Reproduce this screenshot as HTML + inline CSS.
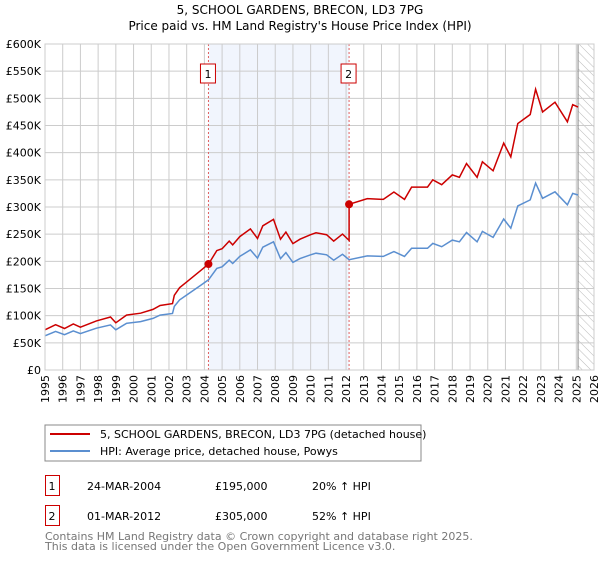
<!DOCTYPE html>
<html><head><meta charset="utf-8">
<style>
body{margin:0;background:#fff;font-family:"DejaVu Sans","Liberation Sans",sans-serif;}
svg text{font-family:"DejaVu Sans","Liberation Sans",sans-serif;}
</style></head>
<body>
<svg width="600" height="560" viewBox="0 0 600 560" id="chart">
<defs>
<pattern id="hatch" width="6" height="6" patternUnits="userSpaceOnUse" patternTransform="rotate(-45)">
<line x1="0" y1="0" x2="0" y2="6" stroke="#bbb" stroke-width="1"/>
</pattern>
</defs>
<text x="300" y="14" text-anchor="middle" font-size="12">5, SCHOOL GARDENS, BRECON, LD3 7PG</text>
<text x="300" y="30" text-anchor="middle" font-size="12">Price paid vs. HM Land Registry's House Price Index (HPI)</text>
<g id="plot"></g>
<rect x="45" y="425" width="376" height="36" fill="#fff" stroke="#888"/>
<line x1="50" y1="434" x2="90" y2="434" stroke="#cc0000" stroke-width="2"/>
<text x="100" y="438" font-size="11">5, SCHOOL GARDENS, BRECON, LD3 7PG (detached house)</text>
<line x1="50" y1="451" x2="90" y2="451" stroke="#5b8fd0" stroke-width="2"/>
<text x="100" y="455" font-size="11">HPI: Average price, detached house, Powys</text>
<g>
<rect x="45.5" y="475.5" width="14" height="20" fill="#fff" stroke="#cc0000"/>
<text x="52" y="490" font-size="11" text-anchor="middle">1</text>
<text x="87" y="490" font-size="11">24-MAR-2004</text>
<text x="215" y="490" font-size="11">£195,000</text>
<text x="312" y="490" font-size="11">20% ↑ HPI</text>
</g>
<g>
<rect x="45.5" y="505.5" width="14" height="20" fill="#fff" stroke="#cc0000"/>
<text x="52" y="520" font-size="11" text-anchor="middle">2</text>
<text x="87" y="520" font-size="11">01-MAR-2012</text>
<text x="215" y="520" font-size="11">£305,000</text>
<text x="312" y="520" font-size="11">52% ↑ HPI</text>
</g>
<text x="45" y="540" font-size="11" fill="#777">Contains HM Land Registry data © Crown copyright and database right 2025.</text>
<text x="45" y="550" font-size="11" fill="#777">This data is licensed under the Open Government Licence v3.0.</text>
</svg>
<script>
const hpiYears=[1995,1995.6,1996.1,1996.6,1997,1997.9,1998.7,1999,1999.6,2000.4,2001.1,2001.5,2002.2,2002.3,2002.6,2003,2003.8,2004.23,2004.7,2005,2005.4,2005.6,2006,2006.6,2007,2007.3,2007.9,2008.3,2008.6,2009,2009.4,2010,2010.3,2010.9,2011.3,2011.8,2012.17,2013.2,2014.1,2014.7,2015.3,2015.7,2016.6,2016.9,2017.4,2018,2018.4,2018.8,2019.4,2019.7,2020.3,2020.9,2021.3,2021.7,2022.4,2022.7,2023.1,2023.8,2024.5,2024.8,2025.1];
const hpiValues=[63,71,65,72,67,77,83,74,86,89,95,101,104,117,129,138,156,166,187,190,202,196,209,221,206,226,236,205,216,198,205,212,215,212,202,213,203,210,209,218,209,224,224,233,227,239,236,253,236,255,244,278,261,302,313,344,316,328,304,325,322];
const saleYears=[2004.23,2012.17];
const salePrices=[195,305];
const yTicks=[0,50,100,150,200,250,300,350,400,450,500,550,600];
const yTickLabels=["£0","£50K","£100K","£150K","£200K","£250K","£300K","£350K","£400K","£450K","£500K","£550K","£600K"];
const xTicks=[1995,1996,1997,1998,1999,2000,2001,2002,2003,2004,2005,2006,2007,2008,2009,2010,2011,2012,2013,2014,2015,2016,2017,2018,2019,2020,2021,2022,2023,2024,2025,2026];
const dataEnd=2025.1;

const L=45,R=594,T=44,B=370;
const X=y=>L+(y-1995)*(R-L)/31;
const Y=v=>B-v*(B-T)/600;
const NS="http://www.w3.org/2000/svg";
const plot=document.getElementById('plot');
function mk(tag,attrs){const e=document.createElementNS(NS,tag);for(const k in attrs)e.setAttribute(k,attrs[k]);plot.appendChild(e);return e;}
function hpiAt(t){for(let i=0;i<hpiYears.length-1;i++){if(t>=hpiYears[i]&&t<=hpiYears[i+1]){const f=(t-hpiYears[i])/(hpiYears[i+1]-hpiYears[i]);return hpiValues[i]+f*(hpiValues[i+1]-hpiValues[i]);}}return hpiValues[hpiValues.length-1];}

const bg=mk('rect',{x:L,y:T,width:R-L,height:B-T,fill:'#fff'});


const sh=mk('rect',{x:X(saleYears[0]),y:T,width:X(saleYears[1])-X(saleYears[0]),height:B-T,fill:'#eef3fd',opacity:0.8});


const ht=mk('rect',{x:X(dataEnd),y:T,width:R-X(dataEnd),height:B-T,fill:'url(#hatch)'});


yTicks.forEach((v,i)=>{
  const g=mk('line',{x1:L,x2:R,y1:Y(v),y2:Y(v),stroke:'#ccc','stroke-width':1});
  
  
  const t=mk('text',{x:L-4,y:Y(v)+4,'text-anchor':'end','font-size':11});
  t.textContent=yTickLabels[i];
  
  
});
xTicks.forEach(yr=>{
  const g=mk('line',{x1:X(yr),x2:X(yr),y1:T,y2:B,stroke:'#ccc','stroke-width':1});
  
  
  const t=mk('text',{x:0,y:0,'text-anchor':'end','font-size':11,transform:`translate(${X(yr)+4},${B+5}) rotate(-90)`});
  t.textContent=yr;
  
  
});
const endl=mk('line',{x1:X(dataEnd),x2:X(dataEnd),y1:T,y2:B,stroke:'#888','stroke-width':1});


saleYears.forEach((s,i)=>{
  const l=mk('line',{x1:X(s),x2:X(s),y1:T,y2:B,stroke:'#e06060','stroke-width':1,'stroke-dasharray':'2,2'});
  
  
  const r=mk('rect',{x:X(s)-8,y:64,width:15,height:19,fill:'#fff',stroke:'#cc0000'});
  
  
  const t=mk('text',{x:X(s)-0.5,y:78,'text-anchor':'middle','font-size':11});
  t.textContent=String(i+1);
  
  
});
let d='';hpiYears.forEach((yr,i)=>{d+=(i?'L':'M')+X(yr).toFixed(1)+','+Y(hpiValues[i]).toFixed(1);});
const hl=mk('path',{d:d,fill:'none',stroke:'#5b8fd0','stroke-width':1.5});


const r0=salePrices[0]/hpiAt(saleYears[0]), r1=salePrices[1]/hpiAt(saleYears[1]);
const pts=[];
hpiYears.forEach((yr,i)=>{if(yr<saleYears[1])pts.push([yr,hpiValues[i]*r0]);});
pts.push([saleYears[1],hpiAt(saleYears[1])*r0]);
pts.push([saleYears[1],salePrices[1]]);
hpiYears.forEach((yr,i)=>{if(yr>saleYears[1])pts.push([yr,hpiValues[i]*r1]);});
let pd='';pts.forEach((p,i)=>{pd+=(i?'L':'M')+X(p[0]).toFixed(1)+','+Y(p[1]).toFixed(1);});
const pl=mk('path',{d:pd,fill:'none',stroke:'#cc0000','stroke-width':1.5});


saleYears.forEach((s,i)=>{
  const c=mk('circle',{cx:X(s),cy:Y(salePrices[i]),r:4,fill:'#cc0000'});
  
  
});
const frame=mk('rect',{x:L,y:T,width:R-L,height:B-T,fill:'none',stroke:'#ccc'});


</script>
</body></html>
